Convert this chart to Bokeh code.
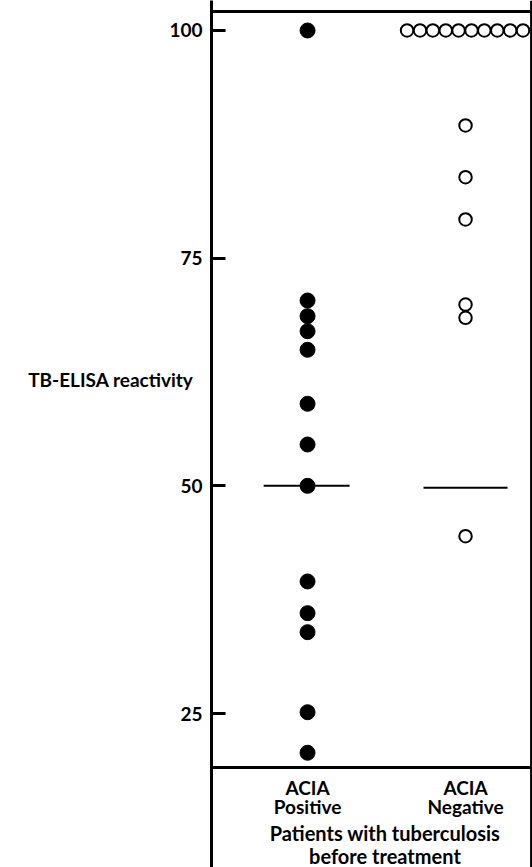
from bokeh.plotting import figure
from bokeh.models import ColumnDataSource, Span, FixedTicker, Range1d, LinearAxis
from bokeh.core.properties import value
from bokeh.embed import file_html
from bokeh.resources import INLINE

# ---- data ----
pos_values = [100, 70.35, 68.63, 66.98, 64.94, 59.01, 54.54, 50.0, 39.50, 36.02, 33.93, 25.14, 20.69]
pos_x = [1.0] * len(pos_values)
neg_top_x = [1.630, 1.712, 1.793, 1.875, 1.956, 2.038, 2.119, 2.201, 2.283, 2.364]
neg_top_values = [100] * len(neg_top_x)
neg_other_values = [89.57, 83.89, 79.25, 69.91, 68.45, 44.47]
neg_other_x = [2.0] * len(neg_other_values)
median_x0 = [0.722, 1.734]
median_x1 = [1.266, 2.266]
median_y = [50.0, 49.8]
y_ticks = [25, 50, 75, 100]
cat_x = [1.0, 2.0]
cat_line1 = ["ACIA", "ACIA"]
cat_line2 = ["Positive", "Negative"]
group_title = ["Patients with tuberculosis", "before treatment"]
y_label = "TB-ELISA reactivity"

FONT = "Lato"
LABEL_Y = 61.68

p = figure(width=532, height=867, output_backend="svg", toolbar_location=None,
           x_range=Range1d(0.392, 2.424), y_range=Range1d(8.09, 103.294),
           x_axis_location=None, min_border_left=211, min_border_right=0,
           min_border_top=0, min_border_bottom=0)
p.outline_line_color = None
p.grid.visible = False
p.background_fill_color = "white"

ax = p.yaxis[0]
ax.ticker = FixedTicker(ticks=y_ticks)
ax.axis_line_width = 3
ax.axis_line_color = "black"
ax.major_tick_in = 14
ax.major_tick_out = 0
ax.major_tick_line_width = 3
ax.minor_tick_line_color = None
ax.major_label_standoff = 9
ax.major_label_text_font = FONT
ax.major_label_text_font_style = "bold"
ax.major_label_text_font_size = "19px"
ax.major_label_text_color = "black"

# y-axis title drawn as a single horizontal label on an extra, line-less axis
lab_axis = LinearAxis(ticker=FixedTicker(ticks=[LABEL_Y]),
                      major_label_overrides={LABEL_Y: y_label},
                      axis_line_color=None, major_tick_line_color=None,
                      minor_tick_line_color=None, major_tick_in=0, major_tick_out=0,
                      major_label_standoff=-27, major_label_text_font=FONT,
                      major_label_text_font_style="bold", major_label_text_font_size="19px",
                      major_label_text_color="black")
p.add_layout(lab_axis, "left")

# frame lines
p.add_layout(Span(location=102.086, dimension="width", line_color="black", line_width=3))
p.add_layout(Span(location=2.415, dimension="height", line_color="black", line_width=2))
p.add_layout(Span(location=19.07, dimension="width", line_color="black", line_width=3))

# median lines
p.segment(x0=median_x0, x1=median_x1, y0=median_y, y1=median_y, line_color="black", line_width=2)

# points
p.scatter(pos_x, pos_values, size=15, fill_color="black", line_color="black")
p.scatter(neg_top_x, neg_top_values, size=12.5, fill_color="white", line_color="black", line_width=2)
p.scatter(neg_other_x, neg_other_values, size=12.5, fill_color="white", line_color="black", line_width=2)

# category labels
src1 = ColumnDataSource(dict(x=cat_x, y=[16.88, 16.88], t=cat_line1))
src2 = ColumnDataSource(dict(x=cat_x, y=[14.79, 14.79], t=cat_line2))
for s in (src1, src2):
    p.text(x="x", y="y", text="t", source=s, text_font=value(FONT), text_font_style="bold",
           text_font_size="19px", text_align="center", text_baseline="middle", text_color="black")
src3 = ColumnDataSource(dict(x=[1.49, 1.49], y=[11.83, 9.35], t=group_title))
p.text(x="x", y="y", text="t", source=src3, text_font=value(FONT), text_font_style="bold",
       text_font_size="20px", text_align="center", text_baseline="middle", text_color="black")

open("out.html", "w").write(file_html(p, INLINE))
